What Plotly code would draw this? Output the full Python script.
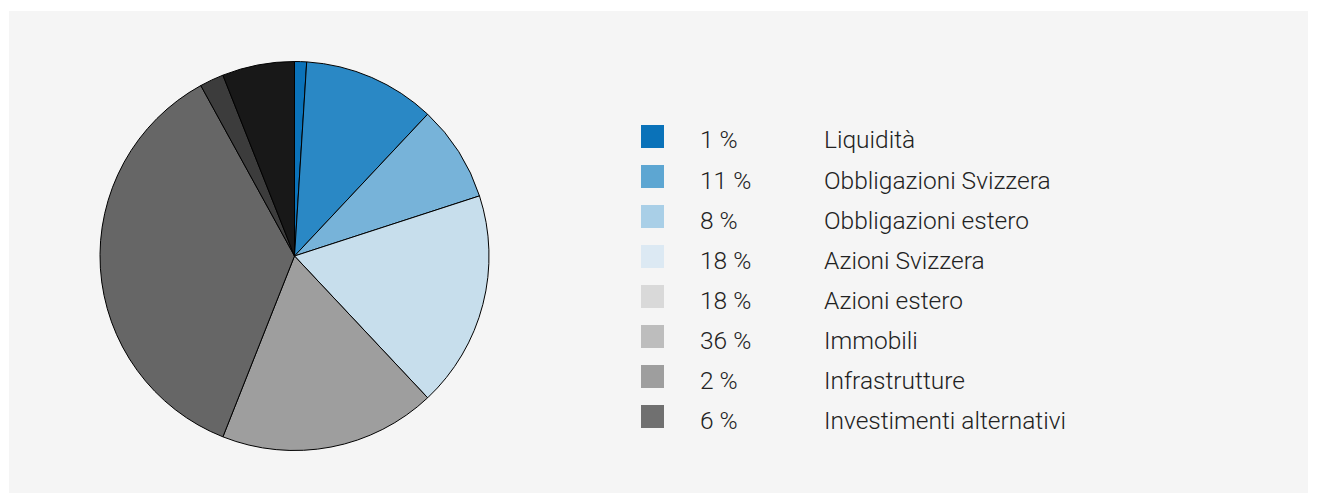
import plotly.graph_objects as go

categories = ["Liquidità", "Obbligazioni Svizzera", "Obbligazioni estero", "Azioni Svizzera",
              "Azioni estero", "Immobili", "Infrastrutture", "Investimenti alternativi"]
values = [1, 11, 8, 18, 18, 36, 2, 6]
value_labels = ["1 %", "11 %", "8 %", "18 %", "18 %", "36 %", "2 %", "6 %"]

pie_colors = ["#0a72b9", "#2a88c5", "#77b3d9", "#c7deec", "#9e9e9e", "#666666", "#3c3c3c", "#181818"]
legend_colors = ["#0a72b9", "#5da6d2", "#a9cfe7", "#dce9f3", "#d9d9d9", "#bdbdbd", "#9e9e9e", "#707070"]

OFF = 8  # page offset of the figure
W, H = 1309, 485

def px(x):
    return (x - OFF) / W

def py(y):
    return 1 - (y - OFF) / H

fig = go.Figure()
fig.add_trace(go.Pie(
    labels=categories, values=values, sort=False, direction="clockwise", rotation=0,
    marker=dict(colors=pie_colors, line=dict(color="#000000", width=1)),
    textinfo="none", hoverinfo="skip", showlegend=False,
    domain=dict(x=[px(100), px(489)], y=[py(451), py(61)]),
))

shapes = [dict(type="rect", xref="paper", yref="paper", x0=px(9), x1=px(1308), y0=0, y1=py(11),
               fillcolor="#f5f5f5", line=dict(width=0), layer="below")]
annotations = []
font = dict(family="Roboto, Helvetica Neue, Arial, sans-serif", size=24.5, color="#222222", weight=300)
for i, (cat, lab, col) in enumerate(zip(categories, value_labels, legend_colors)):
    yc = 136.5 + 40 * i
    shapes.append(dict(type="rect", xref="paper", yref="paper", x0=px(641), x1=px(664),
                       y0=py(yc + 11.5), y1=py(yc - 11.5), fillcolor=col, line=dict(width=0)))
    annotations.append(dict(x=px(698), y=py(yc + 3.5), xref="paper", yref="paper", text=lab,
                            showarrow=False, xanchor="left", yanchor="middle", font=font))
    annotations.append(dict(x=px(822), y=py(yc + 3.5), xref="paper", yref="paper", text=cat,
                            showarrow=False, xanchor="left", yanchor="middle", font=font))

fig.update_layout(width=W, height=H, margin=dict(l=0, r=0, t=0, b=0),
                  paper_bgcolor="#ffffff", plot_bgcolor="#ffffff",
                  shapes=shapes, annotations=annotations)
fig.write_html("out.html")
